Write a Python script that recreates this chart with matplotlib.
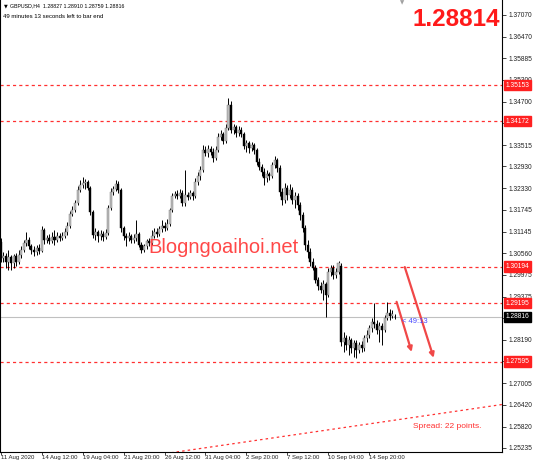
import numpy as np
import matplotlib
matplotlib.use("Agg")
import matplotlib.pyplot as plt

# GBPUSD H4 candles
opens = [1.3087,1.3043,1.3048,1.3032,1.3046,1.3029,1.3048,1.3032,1.3051,1.3065,
         1.3084,1.3092,1.3076,1.3065,1.3059,1.3070,1.3062,1.3119,1.3092,1.3097,
         1.3089,1.3100,1.3092,1.3103,1.3097,1.3103,1.3114,1.3130,1.3163,1.3174,
         1.3193,1.3229,1.3242,1.3248,1.3251,1.3234,1.3169,1.3106,1.3114,1.3103,
         1.3108,1.3100,1.3111,1.3179,1.3223,1.3231,1.3245,1.3229,1.3125,1.3103,
         1.3097,1.3103,1.3092,1.3097,1.3108,1.3078,1.3065,1.3076,1.3089,1.3084,
         1.3103,1.3114,1.3108,1.3122,1.3130,1.3125,1.3136,1.3174,1.3212,1.3218,
         1.3212,1.3220,1.3193,1.3215,1.3210,1.3220,1.3212,1.3251,1.3267,1.3283,
         1.3338,1.3330,1.3341,1.3333,1.3316,1.3338,1.3374,1.3382,1.3363,1.3398,
         1.3461,1.3393,1.3401,1.3385,1.3393,1.3382,1.3349,1.3357,1.3343,1.3352,
         1.3338,1.3305,1.3292,1.3278,1.3261,1.3272,1.3267,1.3297,1.3311,1.3289,
         1.3223,1.3201,1.3234,1.3215,1.3229,1.3201,1.3212,1.3188,1.3160,1.3125,
         1.3078,1.3059,1.3032,1.3015,1.2983,1.2966,1.2955,1.2972,1.2942,1.3005,
         1.3015,1.2996,1.3005,1.3021,1.2813,1.2824,1.2805,1.2819,1.2797,1.2810,
         1.2791,1.2805,1.2797,1.2824,1.2832,1.2851,1.2868,1.2862,1.2846,1.2857,
         1.2846,1.2879,1.2892,1.2884,1.28827]
highs = [1.3097,1.3059,1.3056,1.3065,1.3051,1.3054,1.3056,1.3065,1.3076,1.3092,
         1.3114,1.3100,1.3081,1.3076,1.3078,1.3081,1.3130,1.3125,1.3106,1.3108,
         1.3114,1.3119,1.3114,1.3111,1.3114,1.3125,1.3141,1.3171,1.3185,1.3201,
         1.3240,1.3256,1.3264,1.3259,1.3256,1.3240,1.3174,1.3125,1.3119,1.3119,
         1.3117,1.3122,1.3188,1.3234,1.3240,1.3256,1.3253,1.3234,1.3130,1.3111,
         1.3114,1.3108,1.3108,1.3147,1.3114,1.3087,1.3081,1.3095,1.3097,1.3119,
         1.3125,1.3125,1.3130,1.3147,1.3141,1.3149,1.3179,1.3220,1.3226,1.3229,
         1.3231,1.3229,1.3283,1.3223,1.3229,1.3226,1.3261,1.3278,1.3294,1.3352,
         1.3349,1.3352,1.3349,1.3343,1.3349,1.3385,1.3393,1.3387,1.3409,1.3480,
         1.3472,1.3409,1.3406,1.3404,1.3401,1.3387,1.3365,1.3363,1.3360,1.3357,
         1.3343,1.3316,1.3300,1.3289,1.3283,1.3278,1.3305,1.3322,1.3316,1.3297,
         1.3234,1.3248,1.3242,1.3245,1.3237,1.3223,1.3220,1.3196,1.3169,1.3133,
         1.3092,1.3070,1.3043,1.3024,1.2991,1.2977,1.2983,1.2977,1.3015,1.3024,
         1.3024,1.3015,1.3035,1.3029,1.2840,1.2832,1.2830,1.2824,1.2819,1.2819,
         1.2813,1.2816,1.2832,1.2846,1.2860,1.2879,1.2920,1.2873,1.2868,1.2865,
         1.2887,1.2923,1.2903,1.2901,1.28910]
lows = [1.3032,1.3032,1.3015,1.3010,1.3010,1.3015,1.3021,1.3026,1.3043,1.3059,
        1.3076,1.3067,1.3054,1.3048,1.3051,1.3054,1.3059,1.3081,1.3084,1.3081,
        1.3084,1.3078,1.3087,1.3089,1.3092,1.3097,1.3106,1.3125,1.3158,1.3169,
        1.3188,1.3223,1.3234,1.3231,1.3229,1.3160,1.3097,1.3092,1.3087,1.3092,
        1.3089,1.3095,1.3106,1.3174,1.3215,1.3226,1.3220,1.3114,1.3092,1.3076,
        1.3089,1.3084,1.3084,1.3089,1.3073,1.3056,1.3059,1.3067,1.3076,1.3078,
        1.3097,1.3100,1.3103,1.3114,1.3117,1.3119,1.3130,1.3169,1.3207,1.3204,
        1.3207,1.3185,1.3185,1.3201,1.3204,1.3201,1.3207,1.3242,1.3256,1.3278,
        1.3322,1.3319,1.3324,1.3305,1.3311,1.3333,1.3365,1.3354,1.3357,1.3393,
        1.3385,1.3382,1.3374,1.3376,1.3374,1.3341,1.3333,1.3330,1.3335,1.3327,
        1.3297,1.3283,1.3267,1.3242,1.3251,1.3256,1.3261,1.3289,1.3278,1.3212,
        1.3188,1.3193,1.3201,1.3207,1.3190,1.3179,1.3174,1.3147,1.3114,1.3065,
        1.3043,1.3021,1.3010,1.2975,1.2955,1.2947,1.2928,1.2882,1.2936,1.2994,
        1.2985,1.2988,1.2999,1.2802,1.2786,1.2791,1.2778,1.2783,1.2772,1.2770,
        1.2783,1.2786,1.2789,1.2813,1.2824,1.2840,1.2851,1.2835,1.2813,1.2805,
        1.2840,1.2873,1.2873,1.2879,1.28759]
closes = [1.3043,1.3048,1.3032,1.3046,1.3029,1.3048,1.3032,1.3051,1.3065,1.3084,
          1.3092,1.3076,1.3065,1.3059,1.3070,1.3062,1.3119,1.3092,1.3097,1.3089,
          1.3100,1.3092,1.3103,1.3097,1.3103,1.3114,1.3130,1.3163,1.3174,1.3193,
          1.3229,1.3242,1.3248,1.3251,1.3234,1.3169,1.3106,1.3114,1.3103,1.3108,
          1.3100,1.3111,1.3179,1.3223,1.3231,1.3245,1.3229,1.3125,1.3103,1.3097,
          1.3103,1.3092,1.3097,1.3108,1.3078,1.3065,1.3076,1.3089,1.3084,1.3103,
          1.3114,1.3108,1.3122,1.3130,1.3125,1.3136,1.3174,1.3212,1.3218,1.3212,
          1.3220,1.3193,1.3215,1.3210,1.3220,1.3212,1.3251,1.3267,1.3283,1.3338,
          1.3330,1.3341,1.3333,1.3316,1.3338,1.3374,1.3382,1.3363,1.3398,1.3461,
          1.3393,1.3401,1.3385,1.3393,1.3382,1.3349,1.3357,1.3343,1.3352,1.3338,
          1.3305,1.3292,1.3278,1.3261,1.3272,1.3267,1.3297,1.3311,1.3289,1.3223,
          1.3201,1.3234,1.3215,1.3229,1.3201,1.3212,1.3188,1.3160,1.3125,1.3078,
          1.3059,1.3032,1.3015,1.2983,1.2966,1.2955,1.2972,1.2942,1.3005,1.3015,
          1.2996,1.3005,1.3029,1.2813,1.2824,1.2805,1.2819,1.2797,1.2810,1.2791,
          1.2805,1.2797,1.2824,1.2832,1.2851,1.2868,1.2862,1.2846,1.2857,1.2846,
          1.2879,1.2892,1.2884,1.2890,1.28816]

time_labels = ["11 Aug 2020", "14 Aug 12:00", "19 Aug 04:00", "21 Aug 20:00",
               "26 Aug 12:00", "31 Aug 04:00", "2 Sep 20:00", "7 Sep 12:00",
               "10 Sep 04:00", "14 Sep 20:00"]
label_every = 16

price_ticks = [1.37070, 1.36470, 1.35885, 1.35300, 1.34700, 1.34115, 1.33515,
               1.32930, 1.32330, 1.31745, 1.31145, 1.30560, 1.29975, 1.29375,
               1.28790, 1.28190, 1.27605, 1.27005, 1.26420, 1.25820, 1.25235]
covered_ticks = [1.34115, 1.28790, 1.27605]   # hidden under the price labels

levels = [1.35153, 1.34172, 1.30194, 1.29195, 1.27595]
bid = 1.28816
big_price = "1.28814"

# trendline and the two hand-drawn arrows (bar index, price)
trend_x = [60, 196]
trend_y = [1.25037, 1.26424]
arrow1 = [(154.7, 1.2923), (160.6, 1.2786)]
arrow2 = [(157.9, 1.3018), (169.2, 1.2770)]

W, H = 534, 462
fig = plt.figure(figsize=(W / 100, H / 100), dpi=100)
ax = fig.add_axes([0, 10 / H, 502 / W, 452 / H])

red = "#ff3030"
n = len(closes)
x = np.arange(n)
o = np.array(opens); c = np.array(closes)
hi = np.array(highs); lo = np.array(lows)
up = c >= o

ax.vlines(x, lo, hi, color="black", lw=0.7, zorder=3)
body = np.maximum(np.abs(c - o), 0.00012)
ax.bar(x[up], body[up], bottom=o[up], width=0.8, color="#bdbdbd",
       edgecolor="#707070", linewidth=0.3, zorder=4)
ax.bar(x[~up], body[~up], bottom=c[~up], width=0.8, color="black",
       edgecolor="black", linewidth=0.3, zorder=4)

for lv in levels:
    ax.axhline(lv, color=red, lw=0.9, ls=(0, (2.5, 2.5)), zorder=2)
ax.axhline(bid, color="#c0c0c0", lw=0.8, zorder=1)
ax.plot(trend_x, trend_y, color=red, lw=0.9, ls=(0, (2, 2.5)), zorder=2)

for a in (arrow1, arrow2):
    ax.annotate("", xy=a[1], xytext=a[0],
                arrowprops=dict(arrowstyle="-|>", color="#f04848", lw=1.6,
                                mutation_scale=7, shrinkA=0, shrinkB=0), zorder=6)

ax.set_xlim(-0.3, 195.9)
ax.set_ylim(1.25125, 1.3748)

# right price scale
ax.yaxis.tick_right()
ax.set_yticks(price_ticks)
ax.set_yticklabels(["" if p in covered_ticks else "%.5f" % p for p in price_ticks])
ax.tick_params(axis="y", direction="out", length=3, width=0.6, pad=2,
               labelsize=4.8, colors="#222222")
for t in ax.get_yticklabels():
    t.set_fontfamily("Liberation Sans")

# time scale
ax.set_xticks([i * label_every for i in range(len(time_labels))])
ax.set_xticklabels(time_labels, ha="left", fontsize=4.3, fontfamily="Liberation Sans")
ax.tick_params(axis="x", direction="out", length=2, width=0.6, pad=0.4, colors="#222222")

for s in ("left", "right", "bottom"):
    ax.spines[s].set_linewidth(0.8)
    ax.spines[s].set_color("black")
ax.spines["top"].set_visible(False)

# coloured price labels on the scale
for lv in levels:
    ax.annotate("%.5f" % lv, xy=(1.0, lv), xycoords=("axes fraction", "data"),
                xytext=(2.5, 0), textcoords="offset points", va="center", ha="left",
                fontsize=4.8, fontfamily="Liberation Sans", color="white", zorder=10,
                annotation_clip=False,
                bbox=dict(boxstyle="square,pad=0.25", fc="#ff2020", ec="#ff2020"))
ax.annotate("%.5f" % bid, xy=(1.0, bid), xycoords=("axes fraction", "data"),
            xytext=(2.5, 0), textcoords="offset points", va="center", ha="left",
            fontsize=4.8, fontfamily="Liberation Sans", color="white", zorder=10,
            annotation_clip=False,
            bbox=dict(boxstyle="square,pad=0.25", fc="black", ec="black"))

# texts
fig.text(10 / W, 1 - 6 / H, "GBPUSD,H4  1.28827 1.28910 1.28759 1.28816",
         fontsize=3.8, fontfamily="Liberation Sans", va="center", ha="left")
fig.text(4 / W, 1 - 6 / H, "\u25BC", fontsize=3.5, va="center", ha="left")
fig.text(3 / W, 1 - 16 / H, "49 minutes 13 seconds left to bar end",
         fontsize=4.3, fontfamily="Liberation Sans", va="center", ha="left")
fig.text(500 / W, 1 - 19 / H, big_price, fontsize=17.5, fontweight="bold",
         fontfamily="Liberation Sans", color="#ff1a1a", va="center", ha="right")
fig.text(402 / W, 1 - 3 / H, "\u25BC", fontsize=4, color="#a0a0a0",
         va="center", ha="center")
ax.text(57.5, 1.3056, "Blogngoaihoi.net", fontsize=14.5, color="#ff4848",
        fontfamily="Liberation Sans", va="baseline", ha="left", zorder=7)
ax.text(157, 1.2870, "< 49:13", fontsize=5.5, color="#4a4aff",
        fontfamily="Liberation Sans", va="center", ha="left", zorder=7)
fig.text(413 / W, 1 - 426 / H, "Spread: 22 points.", fontsize=6, color="#ff3030",
         fontfamily="Liberation Sans", va="center", ha="left")

fig.savefig("out.png", dpi=100)
